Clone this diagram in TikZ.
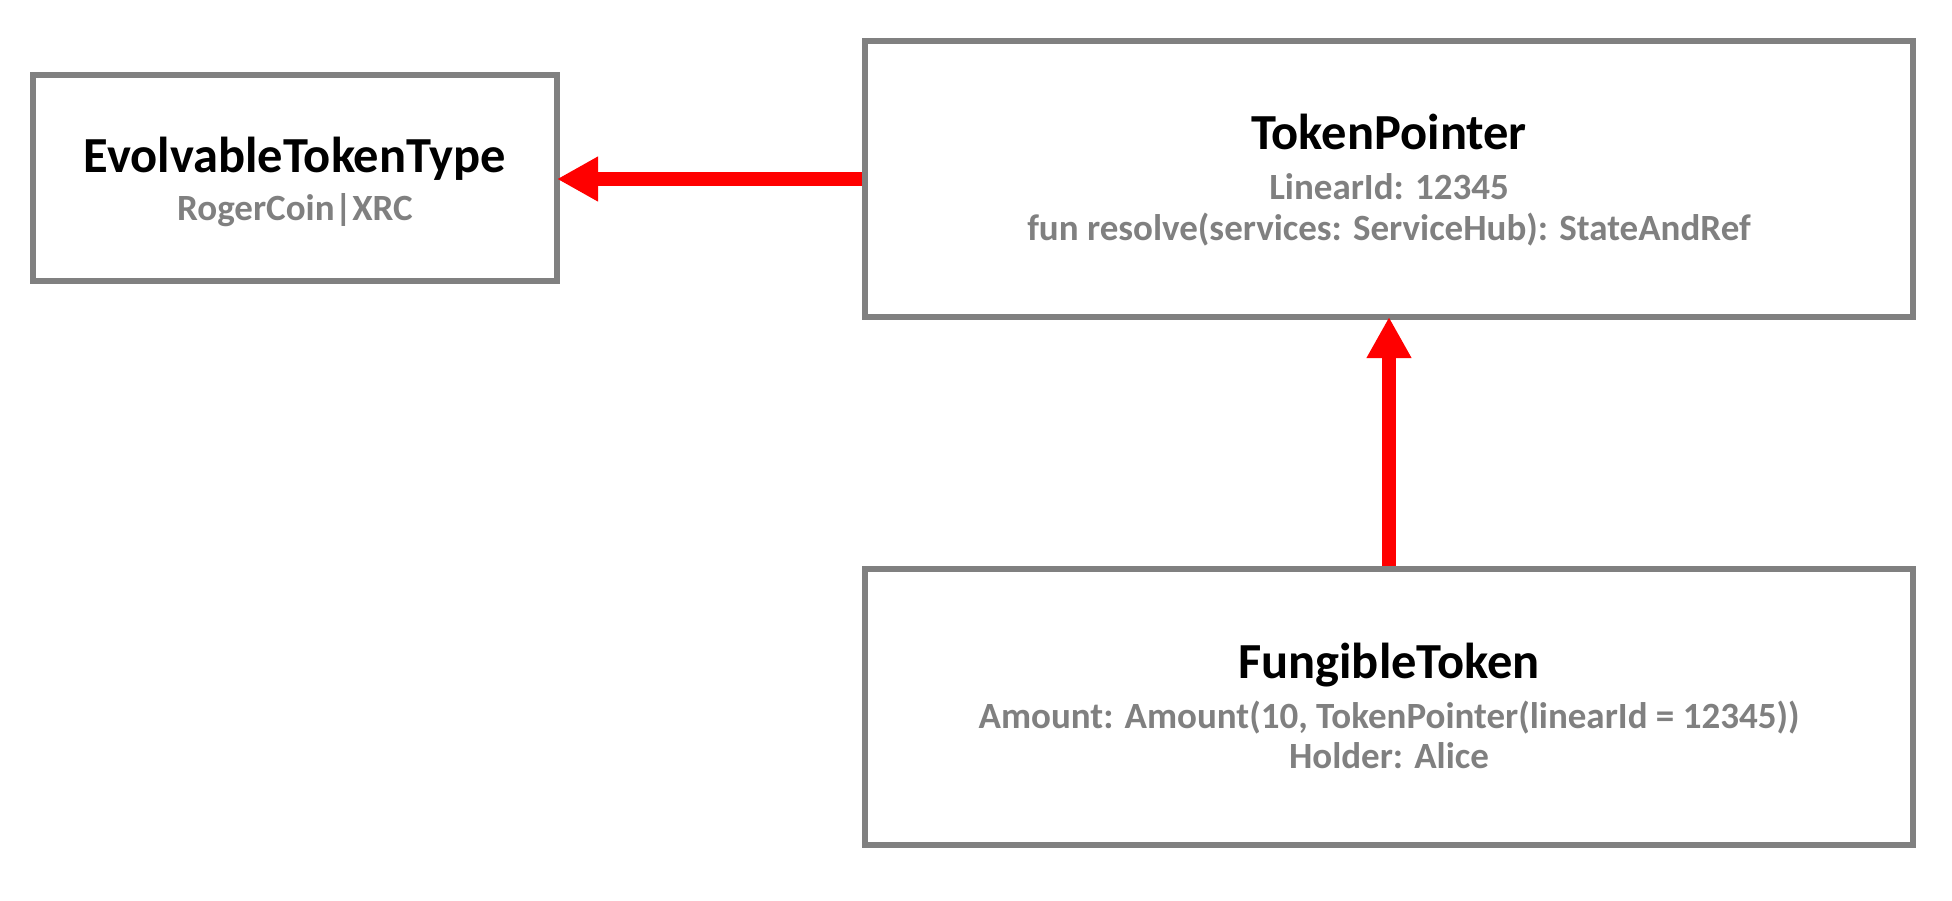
\documentclass[tikz,border=0pt]{standalone}
\usepackage{fontspec}
\setmainfont{Carlito}
\usetikzlibrary{arrows.meta}
\definecolor{boxgray}{HTML}{808080}
\definecolor{arrred}{HTML}{FF0000}
\begin{document}
\begin{tikzpicture}[x=1pt,y=-1pt,
  box/.style={draw=boxgray, line width=6pt, fill=white, inner sep=0pt},
  ttl/.style={anchor=base, font=\bfseries\fontsize{50.5}{50.5}\selectfont, text=black, inner sep=0pt},
  sub/.style={anchor=base, font=\bfseries\fontsize{37}{37}\selectfont, text=boxgray, inner sep=0pt},
  conn/.style={draw=arrred, line width=14pt, shorten >=-3pt, -{Triangle[length=41pt,width=42pt]}}]
\useasboundingbox[fill=white] (0,0) rectangle (1952,900);
\node[box, minimum width=524pt, minimum height=206pt] (ett) at (295,178) {};
\node[box, minimum width=1048pt, minimum height=276pt] (tp) at (1389,179) {};
\node[box, minimum width=1048pt, minimum height=276pt] (ft) at (1389,707) {};
\node[ttl] (ett1) at (295,172) {EvolvableTokenType};
\node[sub] (ett2) at (295,220) {RogerCoin|XRC};
\node[ttl] (tp1) at (1389,149) {TokenPointer};
\node[sub] (tp2) at (1389,199) {LinearId: 12345};
\node[sub] (tp3) at (1389,240) {fun resolve(services: ServiceHub): StateAndRef};
\node[ttl] (ft1) at (1389,678) {FungibleToken};
\node[sub] (ft2) at (1389,728) {Amount: Amount(10, TokenPointer(linearId = 12345))};
\node[sub] (ft3) at (1389,768) {Holder: Alice};
\draw[conn] (tp.west) -- (ett.east |- tp.west);
\draw[conn] (ft.north) -- (tp.south);
\end{tikzpicture}
\end{document}
